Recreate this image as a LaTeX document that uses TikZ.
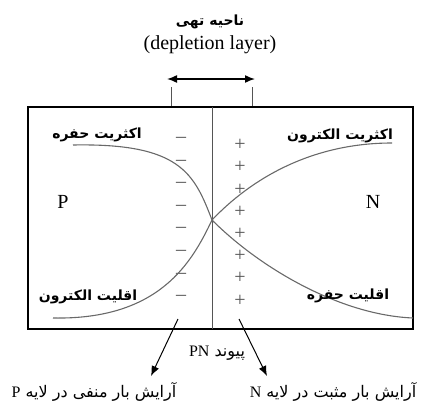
\documentclass[tikz,border=0pt]{standalone}
\usepackage{fontspec}
\setmainfont{Liberation Serif}
\newfontfamily\farsi[Script=Arabic]{DejaVu Sans}
\TeXXeTstate=1
\usetikzlibrary{arrows.meta}
\definecolor{CurveGray}{RGB}{105,105,105}
\definecolor{LineGray}{RGB}{85,85,85}
\newcommand{\fa}[1]{{\farsi\beginR #1\endR}}
\newcommand{\lt}[1]{\beginL{\normalfont #1}\endL}
\tikzset{
  falabel/.style={inner sep=0pt,font=\fontsize{7}{9}\selectfont\bfseries},
  fanote/.style={inner sep=0pt,font=\fontsize{8}{10}\selectfont},
  enlabel/.style={inner sep=0pt,font=\fontsize{10}{12}\selectfont},
  charge/.style={inner sep=0pt,text=LineGray,font=\fontsize{10}{12}\selectfont},
  carrier/.style={CurveGray,line width=0.55pt},
  pointer/.style={-{Latex[length=5pt,width=4pt]},line width=0.5pt}
}
\begin{document}
\begin{tikzpicture}[x=0.5pt,y=-0.5pt]
  \useasboundingbox (0,0) rectangle (423,412);
  % depletion layer
  \node[falabel] (title) at (210,22) {\fa{ناحیه تهی}};
  \node[enlabel] (dep) at (210,45) {(depletion layer)};
  \coordinate (dl) at (171,87);  \coordinate (dlb) at (171,107);
  \coordinate (dr) at (252,87);  \coordinate (drb) at (252,107);
  \coordinate (al) at (167,79);  \coordinate (ar) at (255,79);
  \draw[LineGray,line width=0.5pt] (dl) -- (dlb) (dr) -- (drb);
  \draw[{Latex[length=5pt,width=4pt]}-{Latex[length=5pt,width=4pt]},line width=0.75pt] (al) -- (ar);
  % crystal
  \coordinate (boxnw) at (28,107); \coordinate (boxse) at (413,329);
  \draw[line width=1pt] (boxnw) rectangle (boxse);
  \coordinate (jt) at (212,107); \coordinate (jb) at (212,329);
  \draw[LineGray,line width=0.5pt] (jt) -- (jb);
  \foreach \i in {0,...,7} {
    \node[charge] (m\i) at (181,140+22.6*\i) {--};
    \node[charge] (p\i) at (240,145+22.2*\i) {+};
  }
  % carriers
  \coordinate (cross) at (212,220);
  \draw[carrier] (73,145) .. controls (180,143) and (194,173) .. (cross)
    .. controls (260,268) and (340,315) .. (413,318);
  \draw[carrier] (53,318) .. controls (160,320) and (192,262) .. (cross)
    .. controls (250,180) and (310,143) .. (392,143);
  \node[falabel] (hmaj) at (97,135) {\fa{اکثریت حفره}};
  \node[falabel] (emaj) at (340,136) {\fa{اکثریت الکترون}};
  \node[falabel] (emin) at (88,297) {\fa{اقلیت الکترون}};
  \node[falabel] (hmin) at (348,296) {\fa{اقلیت حفره}};
  \node[enlabel] (pside) at (63,202) {P};
  \node[enlabel] (nside) at (373,202) {N};
  % junction
  \node[fanote] (pn) at (217,353) {\fa{پیوند \lt{PN}}};
  \node[fanote] (negp) at (94,392) {\fa{آرایش بار منفی در لایه \lt{P}}};
  \node[fanote] (posn) at (333,392) {\fa{آرایش بار مثبت در لایه \lt{N}}};
  \coordinate (ms) at (178,319); \coordinate (me) at (151,376);
  \coordinate (ps) at (239,319); \coordinate (pe) at (267,376);
  \draw[pointer] (ms) -- (me);
  \draw[pointer] (ps) -- (pe);
\end{tikzpicture}
\end{document}
